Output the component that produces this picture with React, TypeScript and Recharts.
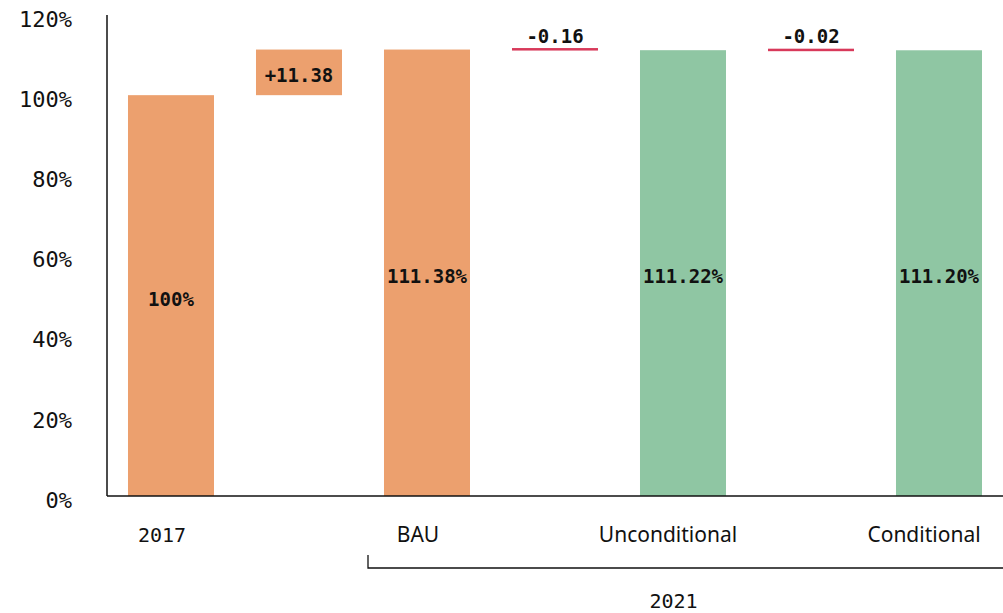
import { Bar, BarChart, LabelList, XAxis, YAxis } from "recharts";

const categories = ["2017", "+11.38", "BAU", "-0.16", "Unconditional", "-0.02", "Conditional"];
const baseValues = [0, 100, 0, 111.22, 0, 111.2, 0];
const barValues = [100, 11.38, 111.38, 0.16, 111.22, 0.02, 111.2];
const barLabels = ["100%", "+11.38", "111.38%", "-0.16", "111.22%", "-0.02", "111.20%"];
const barKinds = ["orange", "orange", "orange", "red", "green", "red", "green"];
const axisLabels = ["2017", "", "BAU", "", "Unconditional", "", "Conditional"];
const groupLabel = "2021";
const yTicks = [0, 20, 40, 60, 80, 100, 120];

const COLORS: Record<string, string> = {
  orange: "#eca06e",
  green: "#8fc6a3",
  red: "#d8395a",
};

const MONO = "'DejaVu Sans Mono', monospace";
const SANS = "'Noto Sans', sans-serif";
const W = 1003;
const H = 613;

const data = categories.map((c, i) => ({
  name: c,
  base: baseValues[i],
  value: barValues[i],
  label: barLabels[i],
  kind: barKinds[i],
  axis: axisLabels[i],
}));

function BarShape(props: any) {
  const { x, y, width, height, payload } = props;
  const fill = COLORS[payload.kind];
  if (payload.kind === "red") {
    return <rect x={x} y={y - 1.5} width={width} height={Math.max(height, 2.5)} fill={fill} />;
  }
  return <rect x={x} y={y} width={width} height={height} fill={fill} />;
}

function BarLabel(props: any) {
  const { x, y, width, height, value, index } = props;
  const kind = barKinds[index];
  const cx = x + width / 2;
  const cy = kind === "red" ? y - 14 : y + height / 2 + 3;
  return (
    <text
      x={cx}
      y={cy}
      dy={7}
      textAnchor="middle"
      fontFamily={MONO}
      fontWeight="bold"
      fontSize={19}
      fill="#111"
    >
      {value}
    </text>
  );
}

function XTick(props: any) {
  const { x, y, payload, index } = props;
  const label = axisLabels[index] ?? payload.value;
  const numeric = /^\d+$/.test(label);
  const shift = label.length > 5 ? 15 : 9;
  return (
    <g>
      <text
        x={x - shift}
        y={y + 46}
        textAnchor="middle"
        fontFamily={numeric ? MONO : SANS}
        fontSize={numeric ? 20 : 21}
        fill="#111"
      >
        {label}
      </text>
      {label === "BAU" && (
        <g>
          <path
            d={`M${x - 59},${y + 59} L${x - 59},${y + 72} L${W},${y + 72}`}
            fill="none"
            stroke="#111"
            strokeWidth={1.3}
          />
          <text
            x={(x - 59 + W) / 2 - 12}
            y={y + 112}
            textAnchor="middle"
            fontFamily={MONO}
            fontSize={20}
            fill="#111"
          >
            {groupLabel}
          </text>
        </g>
      )}
    </g>
  );
}

export default function App() {
  return (
    <div style={{ position: "absolute", left: 0, top: 0, background: "#fff" }}>
      <BarChart
        width={W}
        height={H}
        data={data}
        margin={{ top: 15, right: 0, left: 0, bottom: 0 }}
        barCategoryGap="16.4%"
      >
        <XAxis
          dataKey="name"
          height={117}
          tickLine={false}
          tickSize={0}
          tickMargin={0}
          interval={0}
          axisLine={{ stroke: "#111", strokeWidth: 1.5 }}
          tick={<XTick />}
        />
        <YAxis
          domain={[0, 120]}
          ticks={yTicks}
          width={107}
          tickLine={false}
          tickSize={0}
          tickMargin={35}
          axisLine={{ stroke: "#111", strokeWidth: 1.5 }}
          tickFormatter={(v: number) => `${v}%`}
          tick={{ fontFamily: MONO, fontSize: 22, fill: "#111", dy: 4 }}
        />
        <Bar dataKey="base" stackId="w" fill="transparent" isAnimationActive={false} />
        <Bar dataKey="value" stackId="w" shape={<BarShape />} isAnimationActive={false}>
          <LabelList dataKey="label" content={<BarLabel />} />
        </Bar>
      </BarChart>
    </div>
  );
}
